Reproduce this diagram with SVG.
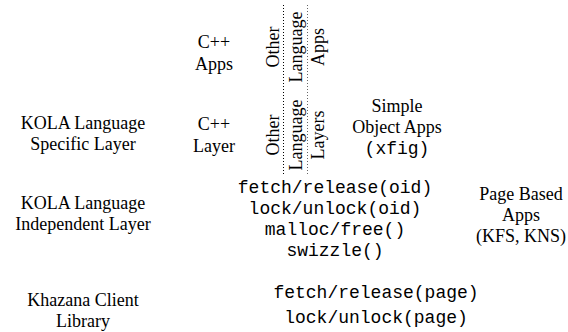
<svg xmlns="http://www.w3.org/2000/svg" width="568" height="332" viewBox="0 0 568 332">
<style>
.s{font-family:"Liberation Serif","Times New Roman",serif;font-size:18px;fill:#000;text-anchor:middle}
.m{font-family:"Liberation Mono","Courier New",monospace;font-size:18px;fill:#000;text-anchor:middle}
.dot{stroke-width:1;stroke-dasharray:1 2;fill:none}
</style>
<rect width="568" height="332" fill="#fff"/>
<g id="separators">
<line class="dot" x1="283.5" y1="5" x2="283.5" y2="176" stroke="#000"/>
<line class="dot" x1="307.5" y1="5" x2="307.5" y2="176" stroke="#666"/>
</g>
<g id="cpp-apps">
<text class="s" x="214" y="48">C++</text>
<text class="s" x="214" y="70">Apps</text>
</g>
<g id="other-lang-apps">
<text class="s" transform="translate(279,47) rotate(-90)">Other</text>
<text class="s" transform="translate(302,47) rotate(-90)">Language</text>
<text class="s" transform="translate(324,47) rotate(-90)">Apps</text>
</g>
<g id="kola-specific">
<text class="s" x="83" y="129">KOLA Language</text>
<text class="s" x="83" y="150">Specific Layer</text>
</g>
<g id="cpp-layer">
<text class="s" x="214" y="130">C++</text>
<text class="s" x="214" y="152">Layer</text>
</g>
<g id="other-lang-layers">
<text class="s" transform="translate(279,135) rotate(-90)">Other</text>
<text class="s" transform="translate(302,135) rotate(-90)">Language</text>
<text class="s" transform="translate(324,135) rotate(-90)">Layers</text>
</g>
<g id="simple-object-apps">
<text class="s" x="397" y="112">Simple</text>
<text class="s" x="397" y="133">Object Apps</text>
<text class="m" x="397" y="154">(xfig)</text>
</g>
<g id="kola-independent">
<text class="s" x="83" y="209">KOLA Language</text>
<text class="s" x="83" y="230">Independent Layer</text>
</g>
<g id="oid-api">
<text class="m" x="335" y="193">fetch/release(oid)</text>
<text class="m" x="335" y="214">lock/unlock(oid)</text>
<text class="m" x="335" y="235">malloc/free()</text>
<text class="m" x="335" y="256">swizzle()</text>
</g>
<g id="page-based-apps">
<text class="s" x="521" y="200">Page Based</text>
<text class="s" x="521" y="221">Apps</text>
<text class="s" x="521" y="242">(KFS, KNS)</text>
</g>
<g id="khazana-client">
<text class="s" x="83" y="306">Khazana Client</text>
<text class="s" x="83" y="327">Library</text>
</g>
<g id="page-api">
<text class="m" x="376" y="298">fetch/release(page)</text>
<text class="m" x="376" y="323">lock/unlock(page)</text>
</g>
</svg>
